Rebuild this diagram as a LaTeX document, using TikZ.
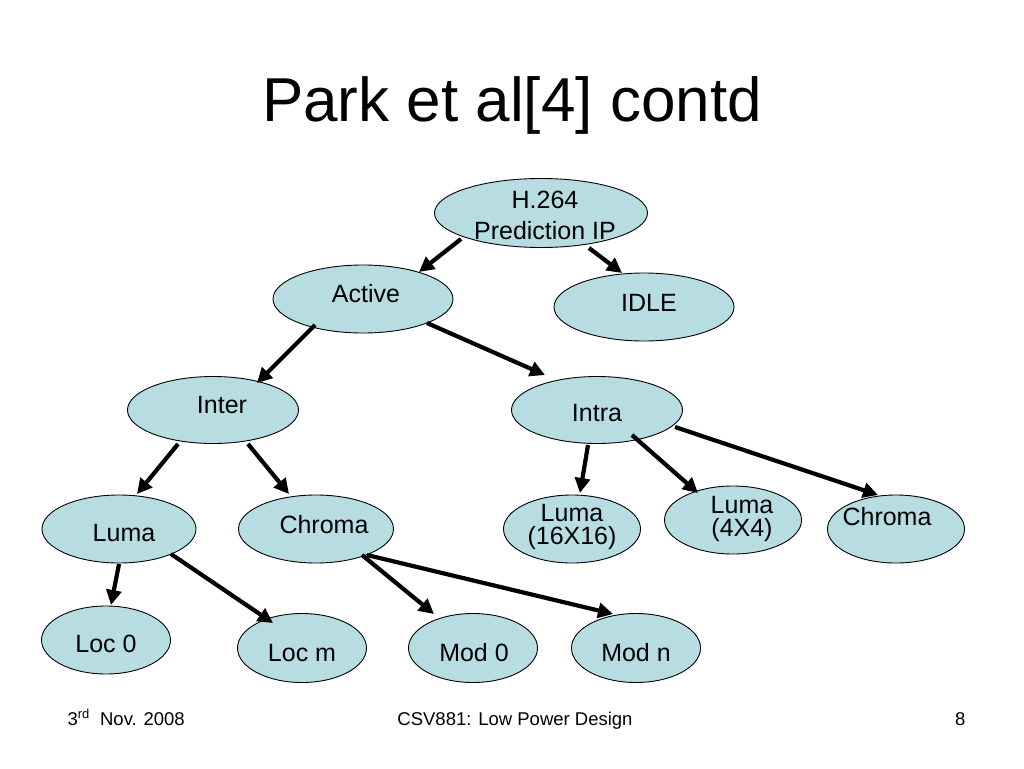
\documentclass[tikz,border=0pt]{standalone}
\usepackage{fontspec}
\setmainfont{Liberation Sans}
\usetikzlibrary{shapes.geometric,arrows.meta,calc}
\definecolor{nodefill}{RGB}{183,221,227}
\tikzset{
  st/.style={ellipse, draw=black, line width=0.9pt, fill=nodefill, inner sep=0pt,
    minimum width=#1, minimum height=68pt},
  st/.default=129pt,
  lbl/.style={font=\fontsize{25}{25}\selectfont, align=center},
  arr/.style={line width=4.2pt, -{Triangle[length=15pt,width=15pt]}}
}
\begin{document}
\begin{tikzpicture}[x=1pt,y=-1pt]
\path[fill=white] (0,0) rectangle (1024,768);
\useasboundingbox (0,0) rectangle (1024,768);

% title
\node[anchor=base, font=\fontsize{62}{62}\selectfont] (title) at (512,121) {Park et al[4] contd};

% nodes
\node[st=213pt, minimum height=69pt] (h264) at (541,213) {};
\node[st=180pt] (active) at (363,299) {};
\node[st=180pt] (idle) at (644,307) {};
\node[st=171pt, minimum height=67pt] (inter) at (213,410) {};
\node[st=171pt, minimum height=67pt] (intra) at (597,410) {};
\node[st=154pt] (lumaL) at (119,529) {};
\node[st=155pt] (chromaL) at (316,529) {};
\node[st=137pt] (luma16) at (572,529) {};
\node[st=137pt] (luma4) at (733,520) {};
\node[st=137pt] (chromaR) at (896,529) {};
\node[st] (loc0) at (106,640) {};
\node[st, minimum height=69pt] (locm) at (302,648) {};
\node[st, minimum height=69pt] (mod0) at (473,648) {};
\node[st, minimum height=69pt] (modn) at (636,648) {};

% labels
\node[lbl, font=\fontsize{25}{31}\selectfont] (th264) at ($(h264)+(4,2)$) {H.264\\Prediction IP};
\node[lbl] (tactive) at ($(active)+(3,-5)$) {Active};
\node[lbl] (tidle) at ($(idle)+(5,-4)$) {IDLE};
\node[lbl] (tinter) at ($(inter)+(9,-5)$) {Inter};
\node[lbl] (tintra) at ($(intra)+(0,3)$) {Intra};
\node[lbl] (tlumaL) at ($(lumaL)+(5,4)$) {Luma};
\node[lbl] (tchromaL) at ($(chromaL)+(8,-4)$) {Chroma};
\node[lbl, font=\fontsize{25}{23}\selectfont] (tluma16) at ($(luma16)+(0,-2)$) {Luma\\(16X16)};
\node[lbl, font=\fontsize{25}{23}\selectfont] (tluma4) at ($(luma4)+(9,-1)$) {Luma\\(4X4)};
\node[lbl] (tchromaR) at ($(chromaR)+(-9,-12)$) {Chroma};
\node[lbl] (tloc0) at ($(loc0)+(0,4)$) {Loc 0};
\node[lbl] (tlocm) at ($(locm)+(0,5)$) {Loc m};
\node[lbl] (tmod0) at ($(mod0)+(1,5)$) {Mod 0};
\node[lbl] (tmodn) at ($(modn)+(0,5)$) {Mod n};

% connectors
\draw[arr] ($(h264)+(-80,26)$) -- ($(active)+(56,-27)$);
\draw[arr] ($(h264)+(48,35)$) -- ($(idle)+(-22,-34)$);
\draw[arr] ($(active)+(-48,26)$) -- ($(inter)+(44,-27)$);
\draw[arr] ($(active)+(64,24)$) -- ($(intra)+(-52,-35)$);
\draw[arr] ($(inter)+(-35,34)$) -- ($(lumaL)+(18,-35)$);
\draw[arr] ($(inter)+(35,34)$) -- ($(chromaL)+(-27,-35)$);
\draw[arr] ($(intra)+(-9,35)$) -- ($(luma16)+(8,-36)$);
\draw[arr] ($(intra)+(35,25)$) -- ($(luma4)+(-35,-27)$);
\draw[arr] ($(intra)+(78,17)$) -- ($(chromaR)+(-18,-34)$);
\draw[arr] ($(lumaL)+(0,35)$) -- ($(loc0)+(5,-35)$);
\draw[arr] ($(lumaL)+(52,25)$) -- ($(locm)+(-29,-25)$);
\draw[arr] ($(chromaL)+(46,26)$) -- ($(mod0)+(-39,-34)$);
\draw[arr] ($(chromaL)+(51,26)$) -- ($(modn)+(-23,-34)$);

% footer
\node[anchor=base west, font=\fontsize{18.5}{18.5}\selectfont] (fdate) at (64,725) {3\textsuperscript{rd}\ \ Nov. 2008};
\node[anchor=base, font=\fontsize{18.5}{18.5}\selectfont] (fcourse) at (515,725) {CSV881: Low Power Design};
\node[anchor=base east, font=\fontsize{18.5}{18.5}\selectfont] (fpage) at (969,725) {8};
\end{tikzpicture}
\end{document}
